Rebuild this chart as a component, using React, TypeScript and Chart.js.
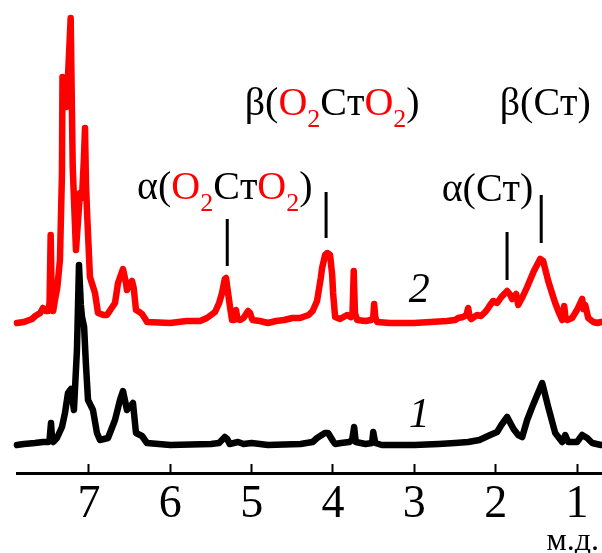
import { useEffect, useRef } from "react";
import { Chart, registerables } from "chart.js";

Chart.register(...registerables);

// ---- data (chemical shift, ppm) ----
const redPpm = [7.886, 7.8, 7.7, 7.66, 7.6, 7.566, 7.53, 7.5, 7.485, 7.471, 7.457, 7.44, 7.418, 7.39, 7.357, 7.332, 7.326, 7.275, 7.225, 7.2, 7.16, 7.111, 7.086, 7.062, 7.049, 7.037, 7.025, 6.988, 6.926, 6.889, 6.82, 6.779, 6.73, 6.68, 6.643, 6.582, 6.545, 6.533, 6.5, 6.471, 6.45, 6.422, 6.38, 6.348, 6.3, 6.287, 6.0, 5.8, 5.635, 5.55, 5.45, 5.4, 5.364, 5.33, 5.315, 5.29, 5.266, 5.241, 5.215, 5.192, 5.175, 5.143, 5.1, 5.044, 5.02, 4.99, 4.9, 4.8, 4.7, 4.6, 4.5, 4.405, 4.3, 4.25, 4.196, 4.15, 4.134, 4.097, 4.07, 4.036, 4.01, 3.999, 3.974, 3.913, 3.87, 3.827, 3.78, 3.76, 3.745, 3.73, 3.703, 3.6, 3.531, 3.505, 3.494, 3.48, 3.458, 3.3, 3.0, 2.8, 2.6, 2.498, 2.461, 2.4, 2.36, 2.338, 2.32, 2.301, 2.228, 2.18, 2.129, 2.1, 2.068, 2.031, 1.982, 1.93, 1.859, 1.82, 1.797, 1.748, 1.723, 1.67, 1.613, 1.53, 1.453, 1.416, 1.354, 1.3, 1.268, 1.22, 1.182, 1.157, 1.14, 1.12, 1.06, 1.0, 0.96, 0.936, 0.92, 0.899, 0.862, 0.8, 0.75, 0.705];
const redVal = [0, 1, 4, 7, 10, 15, 12, 12, 20, 88, 20, 12, 23, 35, 63, 150, 246, 216, 305, 156, 73, 130, 125, 165, 195, 140, 113, 46, 30, 10, 8, 8, 14, 20, 40, 54, 40, 33, 38, 42, 35, 13, 11, 9, 3, 1, 0, 2, 2, 5, 11, 20, 30, 44, 45, 30, 16, 3, 3, 13, 4, 3, 5, 12, 10, 3, 2, 0, 2, 3, 5, 5, 8, 12, 22, 45, 55, 68, 70, 68, 48, 30, 6, 4, 6, 8, 6, 10, 52, 10, 3, 2, 3, 6, 19, 6, 1, 0, 0, 1, 2, 3, 5, 6, 8, 15, 6, 4, 8, 7, 11, 14, 18, 22, 20, 26, 32, 28, 24, 29, 18, 26, 36, 52, 64, 62, 42, 28, 20, 10, 3, 17, 4, 3, 5, 13, 20, 24, 14, 18, 5, 1, 0, 1];

const blackPpm = [7.886, 7.8, 7.664, 7.566, 7.5, 7.485, 7.467, 7.452, 7.44, 7.394, 7.332, 7.295, 7.258, 7.221, 7.185, 7.148, 7.123, 7.1, 7.086, 7.06, 7.037, 7.012, 6.951, 6.902, 6.865, 6.766, 6.68, 6.619, 6.582, 6.533, 6.459, 6.422, 6.348, 6.287, 6.0, 5.5, 5.4, 5.33, 5.3, 5.27, 5.167, 5.1, 5.0, 4.8, 4.4, 4.25, 4.196, 4.1, 4.06, 4.0, 3.974, 3.9, 3.8, 3.765, 3.74, 3.72, 3.6, 3.52, 3.505, 3.48, 3.4, 3.0, 2.7, 2.5, 2.338, 2.2, 2.068, 1.982, 1.93, 1.859, 1.78, 1.723, 1.674, 1.613, 1.551, 1.428, 1.354, 1.268, 1.182, 1.145, 1.108, 1.0, 0.936, 0.875, 0.813, 0.705];
const blackVal = [0, 1, 2, 3, 3, 5, 22, 4, 3, 7, 18, 32, 52, 56, 35, 95, 180, 140, 128, 118, 80, 45, 35, 12, 5, 7, 25, 45, 54, 35, 42, 12, 9, 2, 0, 1, 2, 8, 6, 1, 3, 1, 2, 0, 1, 3, 7, 12, 12, 4, 1, 2, 3, 5, 18, 3, 1, 2, 13, 2, 0, 0, 1, 2, 3, 5, 10, 13, 20, 28, 16, 10, 8, 25, 38, 62, 38, 12, 3, 10, 3, 3, 10, 7, 2, 0];

const redOffset = 122;
const xTickValues = [1, 2, 3, 4, 5, 6, 7];
const axisUnit = "м.д.";

// assignment markers (ppm, from, to)
const markerPpm = [5.3, 4.085, 1.86, 1.44];
const markerFrom = [179, 207, 165, 202];
const markerTo = [226, 253, 213, 250];

type Seg = { t: string; red?: boolean; sub?: boolean };
const annotationTexts: Seg[][] = [
  [{ t: "α(" }, { t: "O", red: true }, { t: "2", red: true, sub: true }, { t: "Cт" }, { t: "O", red: true }, { t: "2", red: true, sub: true }, { t: ")" }],
  [{ t: "β(" }, { t: "O", red: true }, { t: "2", red: true, sub: true }, { t: "Cт" }, { t: "O", red: true }, { t: "2", red: true, sub: true }, { t: ")" }],
  [{ t: "α(Cт)" }],
  [{ t: "β(Cт)" }],
];
const annotationPpm = [5.33, 4.01, 2.1, 1.39];
const annotationY = [246, 330, 244, 330];

const curveLabels = ["2", "1"];
const curveLabelPpm = [2.94, 2.94];
const curveLabelY = [143, 18];

const FONT = "'Liberation Serif', 'Times New Roman', serif";

const textPlugin = {
  id: "textPlugin",
  afterDatasetsDraw(chart: any) {
    const ctx = chart.ctx as CanvasRenderingContext2D;
    const xs = chart.scales.x;
    const ys = chart.scales.y;
    ctx.save();
    ctx.textBaseline = "alphabetic";
    ctx.textAlign = "left";
    const mainFont = `40px ${FONT}`;
    const subFont = `26px ${FONT}`;
    annotationTexts.forEach((segs, i) => {
      let total = 0;
      const widths = segs.map((s) => {
        ctx.font = s.sub ? subFont : mainFont;
        const w = ctx.measureText(s.t).width;
        total += w;
        return w;
      });
      let x = xs.getPixelForValue(annotationPpm[i]) - total / 2;
      const y = ys.getPixelForValue(annotationY[i]);
      segs.forEach((s, j) => {
        ctx.font = s.sub ? subFont : mainFont;
        ctx.fillStyle = s.red ? "#ff0000" : "#000000";
        ctx.fillText(s.t, x, s.sub ? y + 12 : y);
        x += widths[j];
      });
    });
    ctx.font = `italic 42px ${FONT}`;
    ctx.fillStyle = "#000";
    ctx.textAlign = "center";
    curveLabels.forEach((l, i) => {
      ctx.fillText(l, xs.getPixelForValue(curveLabelPpm[i]), ys.getPixelForValue(curveLabelY[i]));
    });
    ctx.font = `32px ${FONT}`;
    ctx.textAlign = "right";
    ctx.fillText(axisUnit, chart.chartArea.right - 2, 550);
    ctx.restore();
  },
};

export default function App() {
  const ref = useRef<HTMLCanvasElement>(null);
  useEffect(() => {
    if (!ref.current) return;
    const markerSets = markerPpm.map((p, i) => ({
      data: [
        { x: p, y: markerFrom[i] },
        { x: p, y: markerTo[i] },
      ],
      borderColor: "#000",
      borderWidth: 3,
      pointRadius: 0,
      borderCapStyle: "butt" as const,
      clip: false as any,
    }));
    const chart = new Chart(ref.current, {
      type: "line",
      data: {
        datasets: [
          {
            data: blackPpm.map((p, i) => ({ x: p, y: blackVal[i] })),
            borderColor: "#000000",
            borderWidth: 6.5,
            pointRadius: 0,
            tension: 0,
            borderJoinStyle: "round",
            borderCapStyle: "round",
            clip: false as any,
          },
          {
            data: redPpm.map((p, i) => ({ x: p, y: redVal[i] + redOffset })),
            borderColor: "#ff0000",
            borderWidth: 6.5,
            pointRadius: 0,
            tension: 0,
            borderJoinStyle: "round",
            borderCapStyle: "round",
            clip: false as any,
          },
          ...markerSets,
        ] as any,
      },
      options: {
        animation: false,
        responsive: false,
        events: [],
        layout: { padding: { left: 17, right: 1, top: 8, bottom: 8 } },
        plugins: { legend: { display: false }, tooltip: { enabled: false } },
        scales: {
          x: {
            type: "linear",
            reverse: true,
            min: 0.705,
            max: 7.885,
            afterBuildTicks: (scale: any) => {
              scale.ticks = xTickValues.map((v) => ({ value: v }));
            },
            grid: {
              display: true,
              drawOnChartArea: false,
              drawTicks: true,
              tickLength: -9,
              tickWidth: 2,
              tickColor: "#000",
            },
            border: { display: true, width: 3, color: "#000" },
            ticks: {
              color: "#000",
              padding: 17.5,
              font: { family: FONT, size: 46, lineHeight: 1 },
              maxRotation: 0,
              autoSkip: false,
            },
          },
          y: {
            type: "linear",
            display: false,
            min: -28,
            max: 437,
          },
        },
      },
      plugins: [textPlugin],
    });
    return () => chart.destroy();
  }, []);
  return (
    <div style={{ position: "absolute", left: 0, top: 0, width: 602, height: 553, background: "#fff" }}>
      <canvas ref={ref} width={602} height={553} style={{ display: "block" }} />
    </div>
  );
}
